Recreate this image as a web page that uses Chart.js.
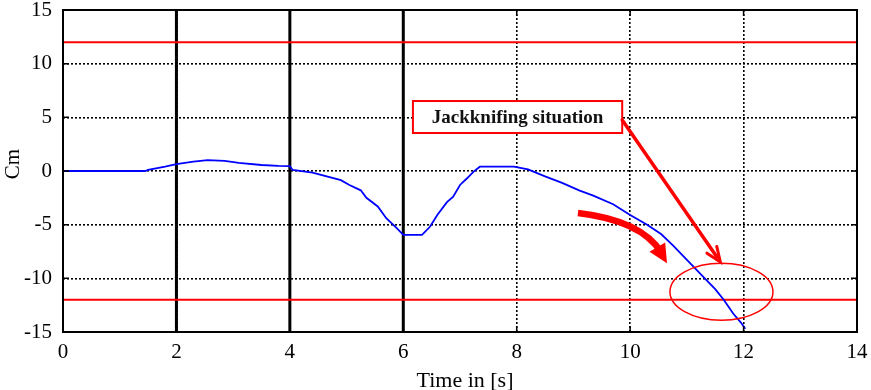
<!DOCTYPE html>
<html>
<head>
<meta charset="utf-8">
<script src="https://cdn.jsdelivr.net/npm/chart.js@4.4.1/dist/chart.umd.min.js"></script>
<style>
html,body{margin:0;padding:0;background:#fff;}
#wrap{width:871px;height:390px;position:relative;}
</style>
</head>
<body>
<div id="wrap"><canvas id="c" width="871" height="390"></canvas></div>
<script>
// ---- data ----
const timeS = [0,1.45,1.5,1.8,2.0,2.3,2.55,2.85,3.1,3.5,3.8,4.0,4.05,4.4,4.65,4.9,5.05,5.25,5.35,5.55,5.7,5.88,6.0,6.33,6.47,6.6,6.77,6.88,7.0,7.12,7.24,7.35,7.95,8.2,8.5,8.8,9.1,9.35,9.7,10.0,10.3,10.55,10.75,10.95,11.15,11.35,11.5,11.65,11.82,11.95,12.03];
const cmValues = [0,0,0.1,0.4,0.65,0.87,1.02,0.95,0.75,0.56,0.47,0.45,0.1,-0.15,-0.5,-0.85,-1.3,-1.8,-2.5,-3.3,-4.4,-5.3,-5.95,-5.95,-5.2,-4.1,-2.9,-2.4,-1.3,-0.7,-0.06,0.4,0.4,0.15,-0.5,-1.1,-1.8,-2.3,-3.1,-4.1,-5.0,-5.9,-6.9,-8.0,-9.1,-10.2,-11.0,-12.0,-13.3,-14.1,-14.7];
const limitUpper = 12;
const limitLower = -12;
const markerTimes = [2,4,6];
const xTicks = [0,2,4,6,8,10,12,14];
const yTicks = [-15,-10,-5,0,5,10,15];
const xRange = [0,14];
const yRange = [-15,15];
const annotationText = "Jackknifing situation";
const xTitle = "Time in [s]";
const yTitle = "Cm";

// ---- build datasets ----
const curve = timeS.map((t,i)=>({x:t,y:cmValues[i]}));
const datasets = [];
markerTimes.forEach(t=>{
  datasets.push({data:[{x:t,y:yRange[0]},{x:t,y:yRange[1]}],borderColor:'#000',borderWidth:3,pointRadius:0,order:3});
});
datasets.push({data:[{x:xRange[0],y:limitUpper},{x:xRange[1],y:limitUpper}],borderColor:'#ff0000',borderWidth:2,pointRadius:0,order:2});
datasets.push({data:[{x:xRange[0],y:limitLower},{x:xRange[1],y:limitLower}],borderColor:'#ff0000',borderWidth:2,pointRadius:0,order:2});
datasets.push({data:curve,borderColor:'#0000ff',borderWidth:1.8,pointRadius:0,tension:0,order:1});

const FONT = "'Liberation Serif','Times New Roman',serif";

const overlay = {
  id:'overlay',
  afterDraw(chart){
    const {ctx, chartArea:a, scales:{x,y}} = chart;
    const px = v=>x.getPixelForValue(v), py = v=>y.getPixelForValue(v);
    ctx.save();
    // frame
    ctx.strokeStyle='#000'; ctx.lineWidth=2; ctx.setLineDash([]);
    ctx.strokeRect(a.left,a.top,a.right-a.left,a.bottom-a.top);
    // inward ticks
    ctx.lineWidth=1.5;
    xTicks.forEach(t=>{const X=px(t);ctx.beginPath();ctx.moveTo(X,a.bottom);ctx.lineTo(X,a.bottom-6);ctx.moveTo(X,a.top);ctx.lineTo(X,a.top+6);ctx.stroke();});
    yTicks.forEach(t=>{const Y=py(t);ctx.beginPath();ctx.moveTo(a.left,Y);ctx.lineTo(a.left+6,Y);ctx.moveTo(a.right,Y);ctx.lineTo(a.right-6,Y);ctx.stroke();});

    // annotation box
    const bx0=px(6.17), bx1=px(9.86), by0=py(6.52), by1=py(3.54);
    ctx.fillStyle='#fff'; ctx.fillRect(bx0,by0,bx1-bx0,by1-by0);
    ctx.strokeStyle='#ff0000'; ctx.lineWidth=2; ctx.strokeRect(bx0,by0,bx1-bx0,by1-by0);
    ctx.fillStyle='#111'; ctx.font="bold 19px "+FONT; ctx.textAlign='center'; ctx.textBaseline='middle';
    ctx.fillText(annotationText,(bx0+bx1)/2,(by0+by1)/2+1);

    // straight arrow
    const s0={x:bx1,y:py(4.75)}, s1={x:px(11.59),y:py(-8.48)};
    ctx.strokeStyle='#ff0000'; ctx.fillStyle='#ff0000'; ctx.lineWidth=3.5; ctx.lineCap='round';
    const ang=Math.atan2(s1.y-s0.y,s1.x-s0.x);
    ctx.beginPath(); ctx.moveTo(s0.x,s0.y); ctx.lineTo(s1.x-6*Math.cos(ang),s1.y-6*Math.sin(ang)); ctx.stroke();
    ctx.lineWidth=3;
    ctx.beginPath();
    ctx.moveTo(s1.x-16*Math.cos(ang-0.38),s1.y-16*Math.sin(ang-0.38));
    ctx.lineTo(s1.x,s1.y);
    ctx.lineTo(s1.x-16*Math.cos(ang+0.38),s1.y-16*Math.sin(ang+0.38));
    ctx.stroke();

    // curved thick arrow
    const c0={x:px(9.08),y:py(-3.91)}, cc={x:px(10.2),y:py(-4.6)}, c1={x:px(10.55),y:py(-7.6)};
    ctx.lineWidth=6.5; ctx.lineCap='butt';
    ctx.beginPath(); ctx.moveTo(c0.x,c0.y); ctx.quadraticCurveTo(cc.x,cc.y,c1.x,c1.y); ctx.stroke();
    const tip={x:px(10.65),y:py(-8.6)};
    const a2=Math.atan2(tip.y-cc.y,tip.x-cc.x);
    ctx.beginPath();
    ctx.moveTo(tip.x,tip.y);
    ctx.lineTo(tip.x-21*Math.cos(a2-0.45),tip.y-21*Math.sin(a2-0.45));
    ctx.lineTo(tip.x-21*Math.cos(a2+0.45),tip.y-21*Math.sin(a2+0.45));
    ctx.closePath(); ctx.fill();

    // ellipse
    ctx.lineWidth=1.5;
    const ex=px(11.61), ey=py(-11.25), rx=px(11.61+0.908)-ex, ry=py(-11.25-2.66)-ey;
    ctx.beginPath(); ctx.ellipse(ex,ey,rx,Math.abs(ry),0,0,Math.PI*2); ctx.stroke();

    // axis titles
    ctx.fillStyle='#000'; ctx.font="22px "+FONT; ctx.textAlign='center'; ctx.textBaseline='alphabetic';
    ctx.fillText(xTitle,465,387);
    ctx.font="21px "+FONT;
    ctx.translate(19,164); ctx.rotate(-Math.PI/2);
    ctx.fillText(yTitle,0,0);
    ctx.restore();
  }
};

new Chart(document.getElementById('c'),{
  type:'line',
  data:{datasets},
  options:{
    responsive:false,animation:false,
    layout:{padding:{left:0,top:10,right:14,bottom:0}},
    plugins:{legend:{display:false},tooltip:{enabled:false}},
    scales:{
      x:{type:'linear',min:xRange[0],max:xRange[1],
        afterBuildTicks:s=>{s.ticks=xTicks.map(v=>({value:v}));},
        afterFit:s=>{s.height=58;s.paddingLeft=0;s.paddingRight=0;},
        grid:{color:'#000',lineWidth:1.6,drawTicks:false},
        border:{display:false,dash:[2,2]},
        ticks:{color:'#000',font:{family:FONT,size:21},padding:8,maxRotation:0}},
      y:{type:'linear',min:yRange[0],max:yRange[1],
        afterBuildTicks:s=>{s.ticks=yTicks.map(v=>({value:v}));},
        afterFit:s=>{s.width=63;s.paddingTop=0;s.paddingBottom=0;},
        grid:{color:'#000',lineWidth:1.6,drawTicks:false},
        border:{display:false,dash:[2,2]},
        ticks:{color:'#000',font:{family:FONT,size:21},padding:11}}
    }
  },
  plugins:[overlay]
});
</script>
</body>
</html>
